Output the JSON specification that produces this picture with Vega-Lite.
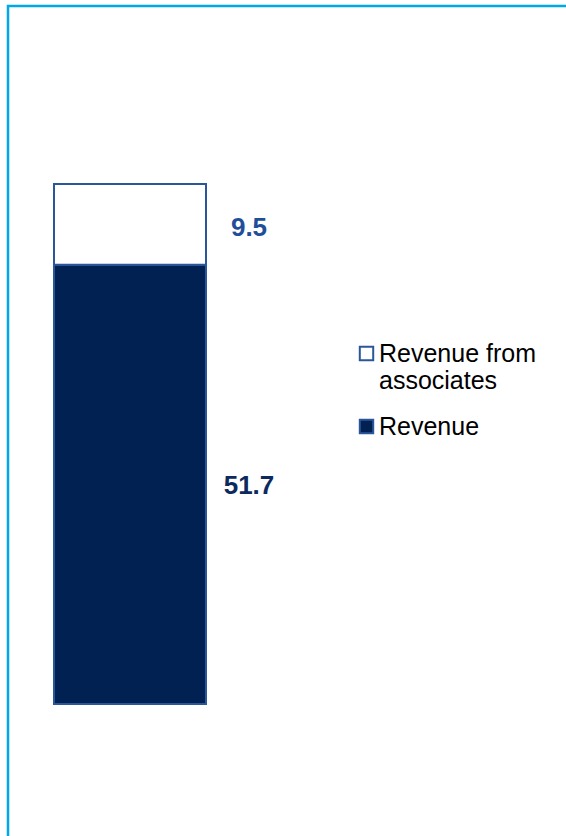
{
  "$schema": "https://vega.github.io/schema/vega-lite/v6.json",
  "autosize": {"type": "none"},
  "width": 566,
  "height": 842,
  "padding": {"left": 8, "top": 6, "right": -8, "bottom": -12},
  "background": "white",
  "config": {
    "view": {"stroke": "#00A8E8", "strokeWidth": 2.5},
    "font": "Liberation Sans"
  },
  "data": {
    "values": [
      {"cat": "A", "series": "Revenue", "value": 51.7},
      {"cat": "A", "series": "Revenue from associates", "value": 9.5}
    ]
  },
  "layer": [
    {
      "mark": {"type": "bar", "stroke": "#2B579A", "strokeWidth": 2},
      "encoding": {
        "x": {"field": "cat", "type": "nominal", "axis": null,
              "scale": {"paddingInner": 0.2657, "paddingOuter": 1, "align": 0.1111}},
        "y": {"field": "value", "type": "quantitative", "stack": "zero", "axis": null,
              "scale": {"domain": [-16.95, 82.15], "nice": false, "zero": false}},
        "order": {"field": "series", "sort": "ascending"},
        "fill": {"field": "series", "type": "nominal",
                 "scale": {"domain": ["Revenue from associates", "Revenue"], "range": ["#FFFFFF", "#002152"]},
                 "legend": {
                   "title": null,
                   "orient": "none",
                   "legendX": 346,
                   "legendY": 335,
                   "padding": 0,
                   "symbolType": "square",
                   "symbolSize": 180,
                   "symbolStrokeColor": "#2B579A",
                   "symbolStrokeWidth": 2,
                   "labelFont": "Liberation Sans",
                   "labelFontSize": 25,
                   "labelColor": "#000000",
                   "labelOffset": 0,
                   "labelLimit": 300,
                   "rowPadding": 20,
                   "labelExpr": "datum.label == 'Revenue from associates' ? ['Revenue from', 'associates'] : datum.label"
                 }}
      }
    },
    {
      "transform": [
        {"stack": "value", "groupby": ["cat"], "sort": [{"field": "series", "order": "ascending"}], "as": ["v0", "v1"]},
        {"filter": "datum.series == 'Revenue from associates'"},
        {"fold": ["v0", "v1"], "as": ["k", "pos"]}
      ],
      "mark": {"type": "text", "font": "Liberation Sans", "fontSize": 26, "fontWeight": "bold", "color": "#1F4E9A", "dx": 119, "dy": 4, "align": "center", "baseline": "middle"},
      "encoding": {
        "x": {"field": "cat", "type": "nominal"},
        "y": {"aggregate": "mean", "field": "pos", "type": "quantitative"},
        "text": {"field": "value", "type": "quantitative", "format": ".1f"}
      }
    },
    {
      "transform": [
        {"stack": "value", "groupby": ["cat"], "sort": [{"field": "series", "order": "ascending"}], "as": ["v0", "v1"]},
        {"filter": "datum.series == 'Revenue'"},
        {"fold": ["v0", "v1"], "as": ["k", "pos"]}
      ],
      "mark": {"type": "text", "font": "Liberation Sans", "fontSize": 26, "fontWeight": "bold", "color": "#0C2A5E", "dx": 119, "dy": 2, "align": "center", "baseline": "middle"},
      "encoding": {
        "x": {"field": "cat", "type": "nominal"},
        "y": {"aggregate": "mean", "field": "pos", "type": "quantitative"},
        "text": {"field": "value", "type": "quantitative", "format": ".1f"}
      }
    }
  ]
}
